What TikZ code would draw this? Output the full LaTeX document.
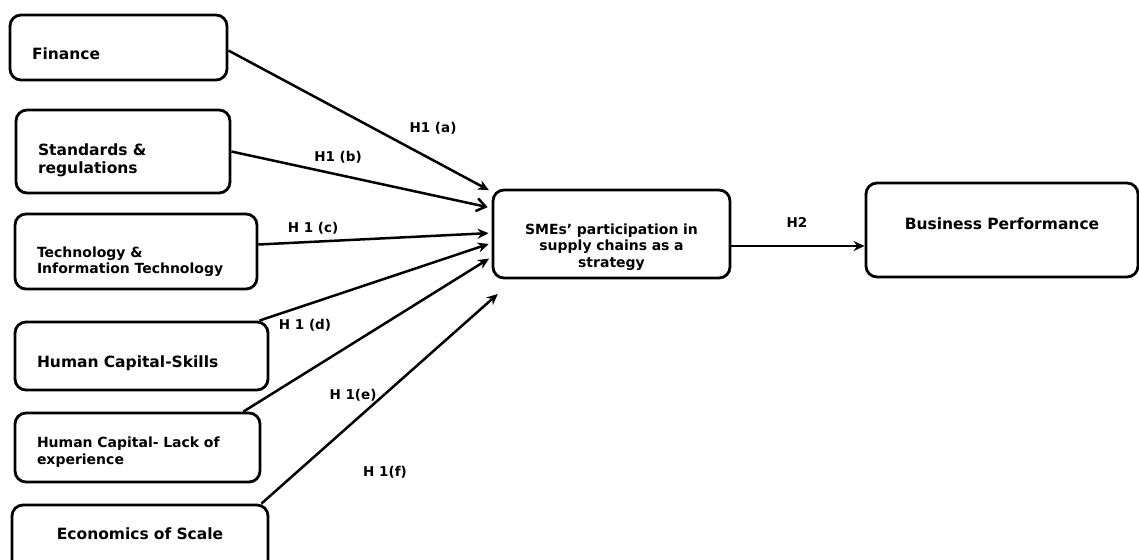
\documentclass[tikz,border=0pt]{standalone}
\usepackage{fontspec}
\setmainfont{DejaVu Sans}
\usetikzlibrary{arrows.meta}

\begin{document}
\begin{tikzpicture}[x=1pt,y=-1pt,
    factor/.style={draw, line width=2.8pt, rounded corners=11pt, inner xsep=22pt,
                   align=left, text depth=0pt, font=\bfseries\fontsize{15.5}{18}\selectfont},
    smallfactor/.style={factor, font=\bfseries\fontsize{14}{16.5}\selectfont},
    hyp/.style={font=\bfseries\fontsize{13.5}{16}\selectfont},
    link/.style={line width=2.5pt, -{Stealth[length=11pt,width=10pt]}, shorten >=3pt}]

    \useasboundingbox (0,0) rectangle (1139,559);

    % Factor boxes on the left
    \node[factor, text width=173pt, minimum height=65pt, text height=25pt] (fin) at (118.5,47.5) {Finance};
    \node[factor, text width=170pt, minimum height=83pt, text height=7pt] (std) at (123,151.5) {Standards \&\\regulations};
    \node[smallfactor, text width=198pt, minimum height=75pt, text height=11pt] (tech) at (136,251.5) {Technology \&\\Information Technology};
    \node[factor, text width=209pt, minimum height=68pt, text height=22pt] (skill) at (141.5,356) {Human Capital-Skills};
    \node[smallfactor, text width=201pt, minimum height=69pt, text height=0pt] (lack) at (137.5,447.5) {Human Capital- Lack of\\experience};
    \node[factor, text width=212pt, minimum height=70pt, text height=0pt, text depth=2pt, align=center] (econ) at (140,540) {Economics of Scale};

    % Strategy and outcome
    \node[smallfactor, text width=210pt, inner xsep=13.5pt, minimum height=88pt, text height=0pt, align=center] (sme) at (611.5,234)
        {SMEs' participation in\\supply chains as a\\strategy};
    \node[factor, text width=226pt, inner xsep=23pt, minimum height=94pt, text height=0pt, text depth=2pt, align=center] (bp) at (1002,230)
        {Business Performance};

    % Free end below the strategy box
    \coordinate (econend) at (500,292);
    \coordinate (h2start) at ([yshift=-12pt]sme.east);

    % Hypothesis arrows
    \draw[link] ([yshift=-3pt]fin.east) -- ([yshift=-3pt]sme.north west);
    \draw[line width=2.5pt, -{Straight Barb[length=9pt,width=13pt]}, shorten >=4pt] (std.east) -- ([yshift=26pt]sme.west);
    \draw[link] ([yshift=7pt]tech.east) -- ([yshift=1pt]sme.west);
    \draw[link] ([xshift=-10pt]skill.north east) -- ([yshift=-9pt]sme.west);
    \draw[link] ([xshift=-18pt]lack.north east) -- ([yshift=-23pt]sme.west);
    \draw[link] ([xshift=-8pt]econ.north east) -- (econend);
    \draw[link, shorten >=0pt] (h2start) -- (h2start -| bp.west);

    % Hypothesis labels
    \node[hyp] (ha) at (433,128) {H1 (a)};
    \node[hyp] (hb) at (338,157) {H1 (b)};
    \node[hyp] (hc) at (313,228) {H 1 (c)};
    \node[hyp] (hd) at (305,325) {H 1 (d)};
    \node[hyp] (he) at (353,395) {H 1(e)};
    \node[hyp] (hf) at (385,472) {H 1(f)};
    \node[hyp] (htwo) at (797,222) {H2};
\end{tikzpicture}
\end{document}
